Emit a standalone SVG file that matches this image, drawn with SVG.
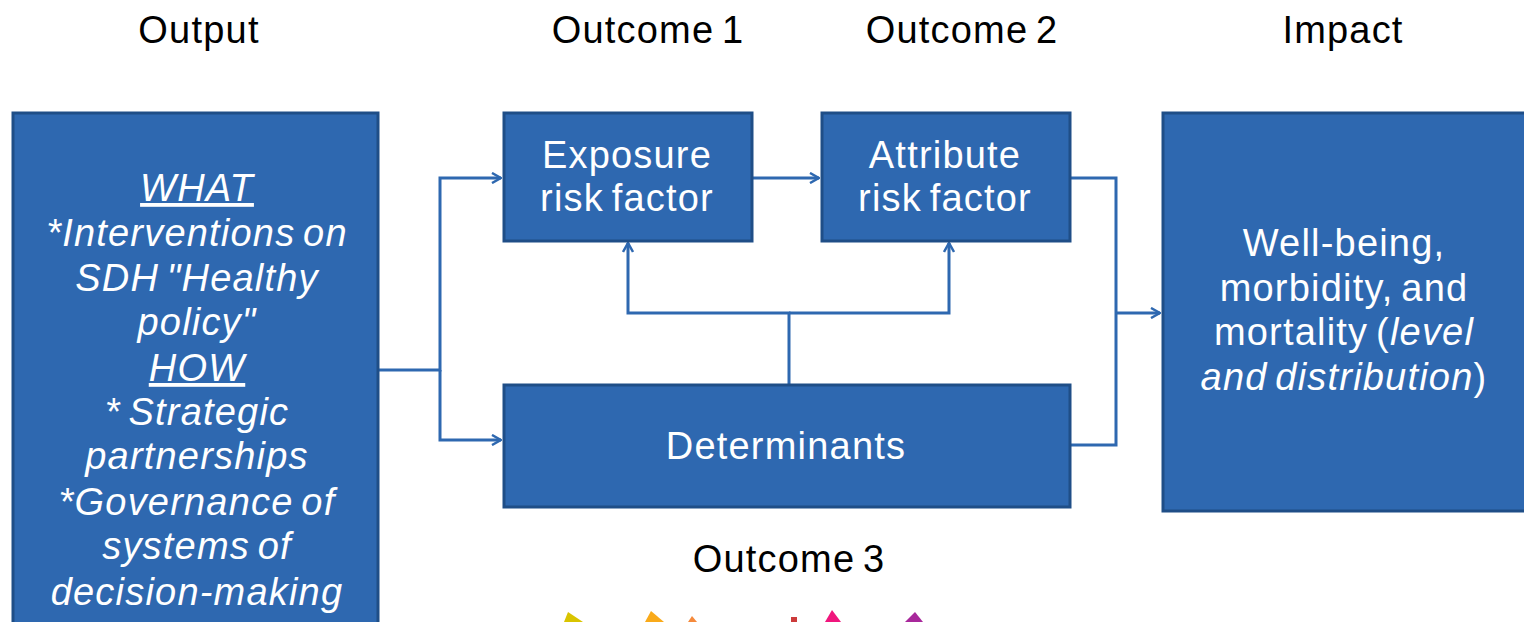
<svg xmlns="http://www.w3.org/2000/svg" width="1524" height="622" viewBox="0 0 1524 622">
<style>
.box{fill:#2E68B0;stroke:#1F4E87;stroke-width:3}
.t{font-family:"Liberation Sans",Arial,sans-serif;font-size:38px;letter-spacing:1.2px;word-spacing:-4px;text-anchor:middle}
.bt{fill:#FFFFFF}
.ttl{fill:#000000}
.c{fill:none;stroke:#2E68B0;stroke-width:3}
.it{font-style:italic}
</style>
<defs>
<marker id="ah" viewBox="0 0 12 12" refX="11" refY="6" markerWidth="12" markerHeight="12" markerUnits="userSpaceOnUse" orient="auto">
<path d="M2,1 L11,6 L2,11" fill="none" stroke="#2E68B0" stroke-width="2.5"/>
</marker>
</defs>
<rect width="1524" height="622" fill="#FFFFFF"/>
<g id="titles">
<text class="t ttl" x="199" y="43">Output</text>
<text class="t ttl" x="648" y="43">Outcome 1</text>
<text class="t ttl" x="962" y="43">Outcome 2</text>
<text class="t ttl" x="1343" y="43">Impact</text>
<text class="t ttl" x="789" y="572">Outcome 3</text>
</g>
<g id="connectors">
<polyline class="c" points="378,370 440,370 440,178 501,178" marker-end="url(#ah)"/>
<polyline class="c" points="440,370 440,440 501,440" marker-end="url(#ah)"/>
<line class="c" x1="752" y1="178" x2="819" y2="178" marker-end="url(#ah)"/>
<polyline class="c" points="789,384 789,313 628,313 628,243" marker-end="url(#ah)"/>
<polyline class="c" points="789,313 949,313 949,243" marker-end="url(#ah)"/>
<polyline class="c" points="1070,178 1116,178 1116,445 1070,445"/>
<line class="c" x1="1116" y1="313" x2="1160" y2="313" marker-end="url(#ah)"/>
</g>
<g id="output">
<rect class="box" x="13" y="113" width="365" height="530"/>
<text class="t bt it" x="197" y="201" text-decoration="underline">WHAT</text>
<text class="t bt it" x="197" y="246">*Interventions on</text>
<text class="t bt it" x="197" y="291">SDH "Healthy</text>
<text class="t bt it" x="197" y="335">policy"</text>
<text class="t bt it" x="197" y="381" text-decoration="underline">HOW</text>
<text class="t bt it" x="197" y="425">* Strategic</text>
<text class="t bt it" x="197" y="469">partnerships</text>
<text class="t bt it" x="197" y="515">*Governance of</text>
<text class="t bt it" x="197" y="559">systems of</text>
<text class="t bt it" x="197" y="605">decision-making</text>
</g>
<g id="exposure">
<rect class="box" x="504" y="113" width="248" height="128"/>
<text class="t bt" x="627" y="168">Exposure</text>
<text class="t bt" x="627" y="211">risk factor</text>
</g>
<g id="attribute">
<rect class="box" x="822" y="113" width="248" height="128"/>
<text class="t bt" x="945" y="168">Attribute</text>
<text class="t bt" x="945" y="211">risk factor</text>
</g>
<g id="determinants">
<rect class="box" x="504" y="385" width="566" height="122"/>
<text class="t bt" x="786" y="459">Determinants</text>
</g>
<g id="impact">
<rect class="box" x="1163" y="113" width="380" height="398"/>
<text class="t bt" x="1344" y="256">Well-being,</text>
<text class="t bt" x="1344" y="301">morbidity, and</text>
<text class="t bt" x="1344" y="345">mortality (<tspan class="it">level</tspan></text>
<text class="t bt" x="1344" y="390"><tspan class="it">and distribution</tspan>)</text>
</g>
<g id="bottom-shapes">
<polygon points="564,622 568,612 583,622" fill="#D9C400"/>
<polygon points="645,622 651,611 664,622" fill="#F9AA1A"/>
<polygon points="688,622 692,616 697,622" fill="#F58A3C"/>
<rect x="791" y="617" width="6" height="5" fill="#CC3B3B"/>
<polygon points="825,622 832,610 841,622" fill="#F0167D"/>
<polygon points="905,622 915,612 923,622" fill="#A8289B"/>
</g>
</svg>
